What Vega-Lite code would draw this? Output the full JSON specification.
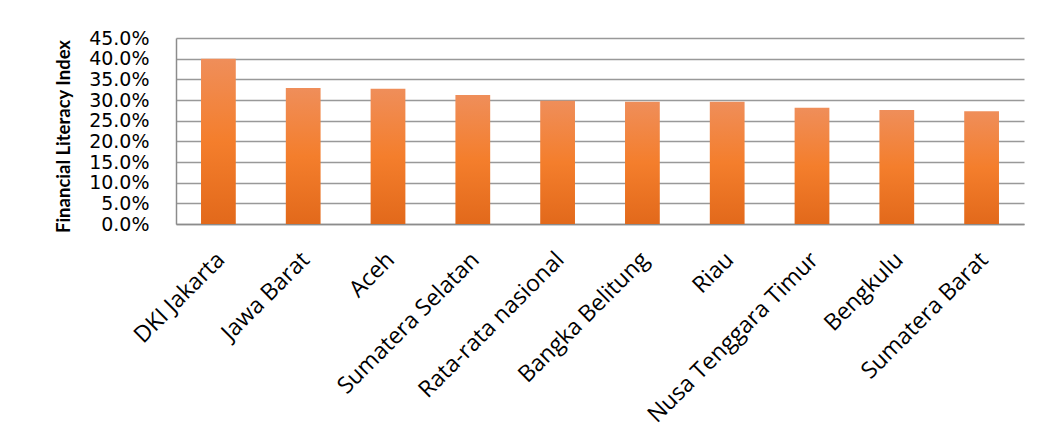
{
  "$schema": "https://vega.github.io/schema/vega-lite/v6.json",
  "autosize": "none",
  "width": 848,
  "height": 186,
  "padding": {"left": 176, "top": 38, "right": 19, "bottom": 215},
  "background": "white",
  "data": {
    "values": [
      {"province": "DKI Jakarta", "index": 0.400},
      {"province": "Jawa Barat", "index": 0.329},
      {"province": "Aceh", "index": 0.327},
      {"province": "Sumatera Selatan", "index": 0.312},
      {"province": "Rata-rata nasional", "index": 0.298},
      {"province": "Bangka Belitung", "index": 0.296},
      {"province": "Riau", "index": 0.296},
      {"province": "Nusa Tenggara Timur", "index": 0.281},
      {"province": "Bengkulu", "index": 0.276},
      {"province": "Sumatera Barat", "index": 0.273}
    ]
  },
  "mark": {
    "type": "bar",
    "width": {"band": 0.41},
    "color": {
      "gradient": "linear",
      "x1": 0, "y1": 0, "x2": 0, "y2": 1,
      "stops": [
        {"offset": 0, "color": "#EF8E5A"},
        {"offset": 0.5, "color": "#F47E2C"},
        {"offset": 1, "color": "#E2691B"}
      ]
    }
  },
  "encoding": {
    "x": {
      "field": "province",
      "type": "nominal",
      "sort": null,
      "scale": {"paddingInner": 0, "paddingOuter": 0},
      "axis": {
        "title": null,
        "labelAngle": -45,
        "labelFont": "Open Sans",
        "labelFontSize": 23,
        "labelLimit": 400,
        "labelColor": "#000000",
        "labelPadding": 24,
        "labelDx": -8,
        "labelOffset": -5,
        "ticks": false,
        "domain": true,
        "domainColor": "#8c8c8c",
        "domainWidth": 1.5
      }
    },
    "y": {
      "field": "index",
      "type": "quantitative",
      "scale": {"domain": [0, 0.45]},
      "axis": {
        "title": "Financial Literacy Index",
        "titleFont": "Lato",
        "titleFontSize": 18.5,
        "titleFontWeight": "bold",
        "titleColor": "#000000",
        "titleAngle": -90,
        "titleAlign": "center",
        "titleBaseline": "middle",
        "titleX": -113,
        "titleY": 98,
        "format": ".1%",
        "values": [0, 0.05, 0.1, 0.15, 0.2, 0.25, 0.3, 0.35, 0.4, 0.45],
        "labelFont": "DejaVu Sans",
        "labelFontSize": 19,
        "labelColor": "#000000",
        "labelPadding": 27,
        "ticks": false,
        "domain": true,
        "domainColor": "#8c8c8c",
        "domainWidth": 1.5,
        "grid": true,
        "gridColor": "#999999",
        "gridWidth": 1.5
      }
    }
  },
  "config": {
    "view": {"stroke": null},
    "axis": {"labelOverlap": false}
  }
}
